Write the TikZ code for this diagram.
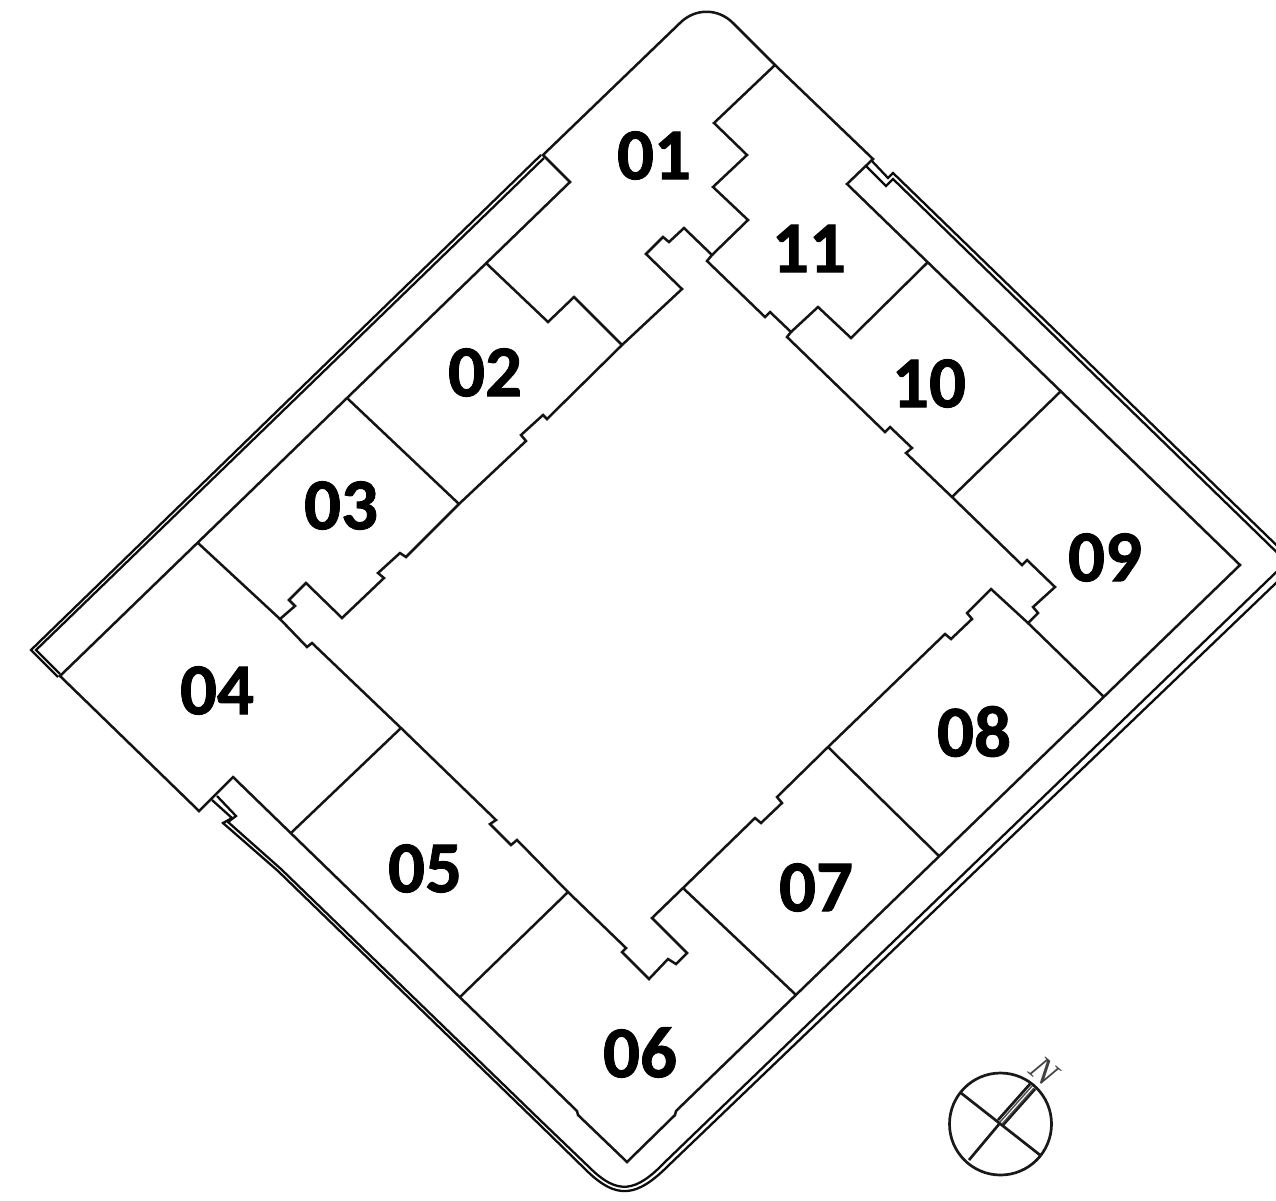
\documentclass[tikz,border=0pt]{standalone}
\usepackage{fontspec}
\setmainfont{Carlito}
\newfontfamily\nfont{Liberation Serif}
\newfontfamily\labfont[BoldFont={Carlito Bold},BoldFeatures={FakeBold=1.2}]{Carlito}
\tikzset{
  wall/.style={draw=black!92,line width=2.5pt,line join=miter,line cap=round},
  dbl/.style={draw=black!95,line width=2.3pt,line join=miter},
  unitlabel/.style={font=\labfont\fontsize{73}{73}\selectfont\bfseries,text=black,inner sep=0pt,anchor=center},
  compass/.style={draw=black!90,line width=2.7pt},
  strip/.style={draw=black!70,line width=1.4pt}
}
\begin{document}
\begin{tikzpicture}[x=1pt,y=-1pt]
\useasboundingbox (0,0) rectangle (1276,1200);
\clip (0,0) rectangle (1276,1200);
% building outline
\draw[wall] (570,182) -- (543,155) -- (680,23) .. controls (695,8) and (718,8) .. (733,23)
  -- (775,65) -- (873,159) -- (847,184) -- (1240,565) -- (676,1111) -- (675,1115) -- (627,1162)
  -- (578,1115) -- (577,1111) -- (233,777) -- (199,811) -- (60,676) -- cycle;
% courtyard
\draw[wall] (712,255) -- (684,228) -- (669,242) -- (663,237) -- (646,254) -- (682,289) -- (622,345)
  -- (547,419) -- (543,415) -- (521,435) -- (526,441) -- (459,504) -- (406,557) -- (400,553)
  -- (378,573) -- (384,578) -- (342,618) -- (306,583) -- (289,600) -- (295,606) -- (280,619)
  -- (307,647) -- (312,643) -- (401,728) -- (496,820) -- (490,824) -- (511,845) -- (517,840)
  -- (568,892) -- (626,948) -- (622,952) -- (649,979) -- (668,959) -- (676,964) -- (687,953)
  -- (652,918) -- (683,888) -- (755,818) -- (761,823) -- (782,803) -- (777,797) -- (828,747)
  -- (945,634) -- (951,639) -- (972,619) -- (967,613) -- (991,589) -- (1028,623) -- (1038,613)
  -- (1033,607) -- (1055,587) -- (1027,560) -- (1022,565) -- (952,497) -- (906,453) -- (912,448)
  -- (890,427) -- (885,432) -- (787,337) -- (791,332) -- (770,312) -- (765,317) -- (707,261) -- cycle;
% unit partitions
\draw[wall] (775,65) -- (714,123) -- (747,155) -- (713,187) -- (748,220) -- (712,255);
\draw[wall] (791,332) -- (818,307) -- (851,338) -- (927,263);
\draw[wall] (1060,392) -- (952,497);
\draw[wall] (1028,623) -- (1103,696);
\draw[wall] (828,747) -- (938,855);
\draw[wall] (683,888) -- (795,994);
\draw[wall] (568,892) -- (461,996);
\draw[wall] (401,728) -- (292,832);
\draw[wall] (198,543) -- (280,619);
\draw[wall] (347,398) -- (459,504);
\draw[wall] (487,264) -- (548,322) -- (574,297) -- (622,345);
% double walls
\draw[dbl] (541,155) -- (31,650) -- (58,677);
\draw[dbl] (544,158) -- (36,650) -- (60,674);
\draw[dbl] (212,800) -- (232,818) -- (223,823) -- (278,871) -- (540,1125) -- (585,1169)
  .. controls (617,1201) and (637,1197) .. (669,1165) -- (1300,560);
\draw[dbl] (217,796) -- (236,816) -- (228,822) -- (281,869) -- (540,1120) -- (589,1167)
  .. controls (618,1196) and (636,1192) .. (665,1162) -- (1295,554);
\draw[dbl] (871,160) -- (888,178) -- (893,173) -- (1300,568);
\draw[dbl] (866,166) -- (886,186) -- (893,179) -- (1295,570);
% unit labels
\node[unitlabel] (u01) at (654,155.5) {01};
\node[unitlabel] (u11) at (809,248.5) {11};
\node[unitlabel] (u02) at (485,372.5) {02};
\node[unitlabel] (u10) at (929,383.5) {10};
\node[unitlabel] (u03) at (341,505.5) {03};
\node[unitlabel] (u09) at (1105,557.5) {09};
\node[unitlabel] (u04) at (217,690.5) {04};
\node[unitlabel] (u08) at (974,731.5) {08};
\node[unitlabel] (u05) at (425,868.5) {05};
\node[unitlabel] (u07) at (816,887.5) {07};
\node[unitlabel] (u06) at (640,1052.5) {06};
% compass
\draw[compass] (1000.5,1124) circle (51);
\draw[compass] (961,1093) -- (1040,1155);
\draw[compass] (969,1160) -- (1000,1123);
\draw[compass] (998,1120) -- (1030,1084);
\draw[compass] (1003,1125) -- (1035,1089);
\draw[strip] (1000,1122) -- (1032,1086);
\draw[strip] (1002,1124) -- (1034,1088);
\node[font=\nfont\itshape\fontsize{36}{36}\selectfont,rotate=-40,inner sep=0pt,text=black!75] (north) at (1044,1071) {N};
\end{tikzpicture}
\end{document}
